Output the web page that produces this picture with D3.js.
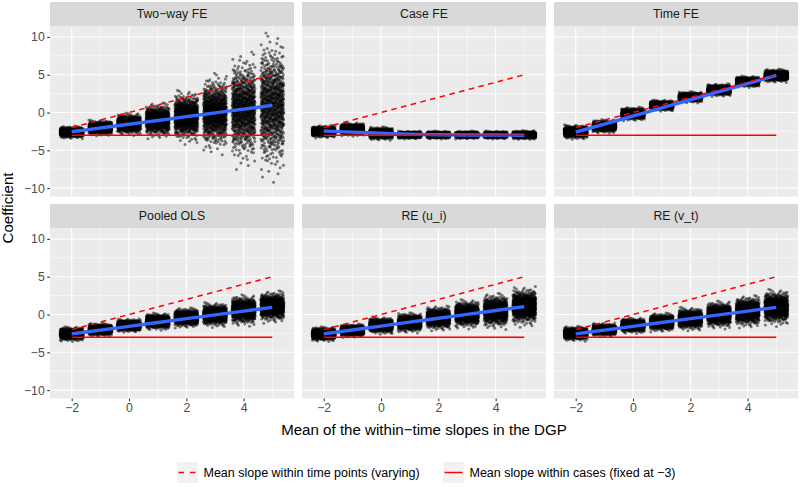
<!DOCTYPE html>
<html>
<head>
<meta charset="utf-8">
<script src="https://cdn.jsdelivr.net/npm/d3@7"></script>
<style>
  html, body { margin: 0; padding: 0; background: #ffffff; }
  svg { display: block; font-family: "Liberation Sans", Arial, Helvetica, sans-serif; }
</style>
</head>
<body>
<svg id="chart" width="800" height="487"></svg>
<script>
// ---------------- data ----------------
const facetNames = ["Two\u2212way FE", "Case FE", "Time FE", "Pooled OLS", "RE (u_i)", "RE (v_t)"];
const dgpSlopes = [-2, -1, 0, 1, 2, 3, 4, 5];           // x groups
const xTicks = [-2, 0, 2, 4];
const yTicks = [-10, -5, 0, 5, 10];
const withinCaseSlope = -3;                               // solid red line
const withinTimeSlope = [-2, -1, 0, 1, 2, 3, 4, 5];      // dashed red line (varying)

// centre of each jittered cloud, per facet, per x group
const clusterCenter = [
  [-2.6, -2.0, -1.5, -1.0, -0.5, 0.0, 0.5, 1.0],
  [-2.5, -2.2, -2.75, -2.95, -2.95, -2.95, -2.95, -2.95],
  [-2.55, -1.8, -0.15, 0.95, 2.05, 3.0, 4.1, 4.9],
  [-2.56, -2.0, -1.43, -0.9, -0.4, 0.0, 0.6, 1.08],
  [-2.56, -2.1, -1.43, -1.05, -0.45, 0.1, 0.5, 1.1],
  [-2.5, -2.0, -1.43, -1.0, -0.55, 0.0, 0.45, 0.97]
];
// vertical spread (sd) of each cloud
const clusterSpread = [
  [0.28, 0.35, 0.5, 0.8, 1.2, 1.8, 2.6, 3.3],
  [0.28, 0.3, 0.3, 0.18, 0.18, 0.18, 0.18, 0.2],
  [0.32, 0.3, 0.3, 0.25, 0.25, 0.28, 0.25, 0.3],
  [0.33, 0.3, 0.3, 0.38, 0.45, 0.55, 0.7, 0.72],
  [0.33, 0.3, 0.38, 0.45, 0.55, 0.65, 0.8, 0.9],
  [0.33, 0.3, 0.35, 0.42, 0.52, 0.62, 0.72, 0.82]
];
// fitted (blue) line values at each x group
const smoothFit = [
  [-2.55, -2.05, -1.55, -1.05, -0.55, -0.05, 0.45, 0.95],
  [-2.45, -2.6, -2.75, -2.88, -2.94, -2.97, -2.98, -3.0],
  [-2.6, -1.53, -0.46, 0.61, 1.69, 2.76, 3.83, 4.9],
  [-2.56, -2.06, -1.56, -1.06, -0.55, -0.05, 0.45, 0.95],
  [-2.56, -2.04, -1.53, -1.01, -0.5, 0.02, 0.53, 1.05],
  [-2.56, -2.06, -1.56, -1.06, -0.55, -0.05, 0.45, 0.95]
];
const pointsPerCluster = 800;
const legendLabels = ["Mean slope within time points (varying)", "Mean slope within cases (fixed at \u22123)"];

// ---------------- layout ----------------
const svg = d3.select("#chart");
const colX = [50, 302, 554];
const colW = 244;
const stripTop = [2, 204];
const stripH = 24.5;
const panelTop = [26.5, 228.5];
const panelH = 170;

const xDomain = [-2.757, 5.757];
const yDomain = [-11.11, 11.38];
const minus = s => String(s).replace("-", "\u2212");

// deterministic normal quantile (Acklam)
function qnorm(p) {
  const a=[-3.969683028665376e+01,2.209460984245205e+02,-2.759285104469687e+02,1.383577518672690e+02,-3.066479806614716e+01,2.506628277459239e+00];
  const b=[-5.447609879822406e+01,1.615858368580409e+02,-1.556989798598866e+02,6.680131188771972e+01,-1.328068155288572e+01];
  const c=[-7.784894002430293e-03,-3.223964580411365e-01,-2.400758296714044e+00,-2.549732539343734e+00,4.374664141464968e+00,2.938163982698783e+00];
  const d=[7.784695709041462e-03,3.224671290700398e-01,2.445134137142996e+00,3.754408661907416e+00];
  const pl=0.02425, ph=1-pl; let q, r;
  if (p < pl) { q=Math.sqrt(-2*Math.log(p)); return (((((c[0]*q+c[1])*q+c[2])*q+c[3])*q+c[4])*q+c[5])/((((d[0]*q+d[1])*q+d[2])*q+d[3])*q+1); }
  if (p > ph) { q=Math.sqrt(-2*Math.log(1-p)); return -(((((c[0]*q+c[1])*q+c[2])*q+c[3])*q+c[4])*q+c[5])/((((d[0]*q+d[1])*q+d[2])*q+d[3])*q+1); }
  q=p-0.5; r=q*q; return (((((a[0]*r+a[1])*r+a[2])*r+a[3])*r+a[4])*r+a[5])*q/(((((b[0]*r+b[1])*r+b[2])*r+b[3])*r+b[4])*r+1);
}
// low-discrepancy (Halton) sequence for an even, deterministic spread
function halton(i, base) { let f = 1, r = 0; while (i > 0) { f /= base; r += f * (i % base); i = Math.floor(i / base); } return r; }

const defs = svg.append("defs");
const fs = "12.3px";

facetNames.forEach((name, fi) => {
  const col = fi % 3, row = Math.floor(fi / 3);
  const x0 = colX[col], y0 = panelTop[row];
  const x = d3.scaleLinear().domain(xDomain).range([x0, x0 + colW]);
  const y = d3.scaleLinear().domain(yDomain).range([y0 + panelH, y0]);

  svg.append("rect").attr("x", x0).attr("y", stripTop[row]).attr("width", colW).attr("height", stripH)
    .attr("fill", "#D9D9D9");
  svg.append("text").attr("x", x0 + colW / 2).attr("y", stripTop[row] + stripH / 2)
    .attr("text-anchor", "middle").attr("dominant-baseline", "central")
    .attr("font-size", fs).attr("fill", "#1A1A1A").text(name);

  svg.append("rect").attr("x", x0).attr("y", y0).attr("width", colW).attr("height", panelH).attr("fill", "#EBEBEB");

  const g = svg.append("g");
  const xMinor = [-1, 1, 3, 5], yMinor = [-7.5, -2.5, 2.5, 7.5];
  g.selectAll(".xmin").data(xMinor).join("line")
    .attr("x1", d => x(d)).attr("x2", d => x(d)).attr("y1", y0).attr("y2", y0 + panelH)
    .attr("stroke", "#fff").attr("stroke-width", 0.55);
  g.selectAll(".ymin").data(yMinor).join("line")
    .attr("y1", d => y(d)).attr("y2", d => y(d)).attr("x1", x0).attr("x2", x0 + colW)
    .attr("stroke", "#fff").attr("stroke-width", 0.55);
  g.selectAll(".xmaj").data(xTicks).join("line")
    .attr("x1", d => x(d)).attr("x2", d => x(d)).attr("y1", y0).attr("y2", y0 + panelH)
    .attr("stroke", "#fff").attr("stroke-width", 1.1);
  g.selectAll(".ymaj").data(yTicks).join("line")
    .attr("y1", d => y(d)).attr("y2", d => y(d)).attr("x1", x0).attr("x2", x0 + colW)
    .attr("stroke", "#fff").attr("stroke-width", 1.1);

  const clipId = "clip" + fi;
  defs.append("clipPath").attr("id", clipId).append("rect")
    .attr("x", x0).attr("y", y0).attr("width", colW).attr("height", panelH);
  const plot = svg.append("g").attr("clip-path", `url(#${clipId})`);

  // jittered clouds: read-off centre and spread, spread deterministically
  const pts = [];
  dgpSlopes.forEach((s, gi) => {
    const c = clusterCenter[fi][gi], sd = clusterSpread[fi][gi];
    for (let i = 1; i <= pointsPerCluster; i++) {
      const p = halton(i, 2);
      const u = (halton(i, 3) + gi * 0.37 + fi * 0.19) % 1;
      pts.push({ xv: s + (u * 2 - 1) * 0.4, yv: c + sd * qnorm(p) });
    }
  });
  plot.append("g").selectAll("circle").data(pts).join("circle")
    .attr("cx", d => x(d.xv)).attr("cy", d => y(d.yv)).attr("r", 1.5)
    .attr("fill", "#000").attr("fill-opacity", 0.5);

  const fitData = dgpSlopes.map((s, i) => [s, smoothFit[fi][i]]);
  plot.append("path").datum(fitData)
    .attr("d", d3.line().x(d => x(d[0])).y(d => y(d[1])).curve(d3.curveMonotoneX))
    .attr("fill", "none").attr("stroke", "#3366FF").attr("stroke-width", 3.4);

  const dashData = dgpSlopes.map((s, i) => [s, withinTimeSlope[i]]);
  plot.append("path").datum(dashData)
    .attr("d", d3.line().x(d => x(d[0])).y(d => y(d[1])))
    .attr("fill", "none").attr("stroke", "#FF0000").attr("stroke-width", 1.5).attr("stroke-dasharray", "5.5,4.5");
  const solidData = dgpSlopes.map(s => [s, withinCaseSlope]);
  plot.append("path").datum(solidData)
    .attr("d", d3.line().x(d => x(d[0])).y(d => y(d[1])))
    .attr("fill", "none").attr("stroke", "#FF0000").attr("stroke-width", 1.5);

  if (col === 0) {
    const ay = svg.append("g").attr("transform", `translate(${x0},0)`)
      .call(d3.axisLeft(y).tickValues(yTicks).tickSize(2.75).tickPadding(2.5).tickFormat(minus));
    ay.select(".domain").remove();
    ay.selectAll(".tick line").attr("stroke", "#333333").attr("stroke-width", 1.07);
    ay.selectAll(".tick text").attr("fill", "#4D4D4D").attr("font-size", fs)
      .attr("font-family", "Liberation Sans, Arial, sans-serif");
  }
  if (row === 1) {
    const ax = svg.append("g").attr("transform", `translate(0,${y0 + panelH})`)
      .call(d3.axisBottom(x).tickValues(xTicks).tickSize(2.75).tickPadding(2.5).tickFormat(minus));
    ax.select(".domain").remove();
    ax.selectAll(".tick line").attr("stroke", "#333333").attr("stroke-width", 1.07);
    ax.selectAll(".tick text").attr("fill", "#4D4D4D").attr("font-size", fs)
      .attr("font-family", "Liberation Sans, Arial, sans-serif");
  }
});

svg.append("text").attr("x", 424).attr("y", 435).attr("text-anchor", "middle")
  .attr("font-size", "15.1px").attr("fill", "#000").text("Mean of the within\u2212time slopes in the DGP");
svg.append("text").attr("transform", "translate(13,208) rotate(-90)").attr("text-anchor", "middle")
  .attr("font-size", "15.1px").attr("fill", "#000").text("Coefficient");

const keyX = [177, 443], keyY = 462, keyS = 21;
legendLabels.forEach((lab, i) => {
  svg.append("rect").attr("x", keyX[i]).attr("y", keyY).attr("width", keyS).attr("height", keyS).attr("fill", "#F2F2F2");
  svg.append("line").attr("x1", keyX[i] + 1.5).attr("x2", keyX[i] + keyS - 1.5)
    .attr("y1", keyY + keyS / 2).attr("y2", keyY + keyS / 2)
    .attr("stroke", "#FF0000").attr("stroke-width", 1.5)
    .attr("stroke-dasharray", i === 0 ? "5.5,6" : null);
  svg.append("text").attr("x", keyX[i] + keyS + 5.5).attr("y", keyY + keyS / 2)
    .attr("dominant-baseline", "central").attr("font-size", "12.5px").attr("fill", "#000").text(lab);
});
</script>
</body>
</html>
